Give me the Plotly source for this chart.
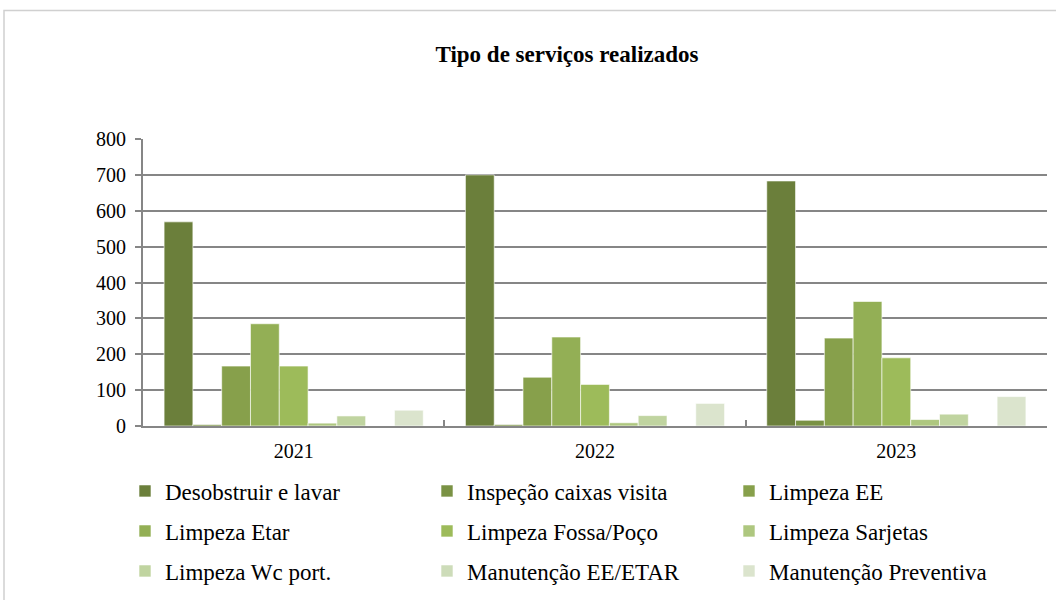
import plotly.graph_objects as go

years = ["2021", "2022", "2023"]
series_names = [
    "Desobstruir e lavar",
    "Inspeção caixas visita",
    "Limpeza EE",
    "Limpeza Etar",
    "Limpeza Fossa/Poço",
    "Limpeza Sarjetas",
    "Limpeza Wc port.",
    "Manutenção EE/ETAR",
    "Manutenção Preventiva",
]
desobstruir = [569, 700, 683]
inspecao = [4, 4, 16]
limpeza_ee = [167, 136, 245]
limpeza_etar = [285, 248, 347]
limpeza_fossa = [167, 116, 190]
limpeza_sarjetas = [8, 9, 18]
limpeza_wc = [28, 29, 33]
manut_ee_etar = [0, 0, 0]
manut_preventiva = [44, 63, 82]
series_values = [desobstruir, inspecao, limpeza_ee, limpeza_etar, limpeza_fossa,
                 limpeza_sarjetas, limpeza_wc, manut_ee_etar, manut_preventiva]
colors = ["#6b7f3b", "#7a9244", "#87a04b", "#93af55", "#9dbb5a",
          "#aec77f", "#c0d4a0", "#cddcb9", "#dbe4cd"]

FONT = "Liberation Serif, Times New Roman, serif"
W, H = 1056, 600
ml, mr, mt, mb = 143, 9, 139, 173
pw = W - ml - mr
ph = H - mt - mb

fig = go.Figure()
legend_ids = ["legend", "legend2", "legend3"]
for i, (name, vals, c) in enumerate(zip(series_names, series_values, colors)):
    fig.add_trace(go.Bar(
        x=years, y=vals, name=name,
        marker=dict(color=c, line=dict(color="rgba(255,255,255,0.6)", width=1)),
        legend=legend_ids[i // 3],
    ))

def py2paper(py):
    return (H - mb - py) / ph

legend_common = dict(
    orientation="h", xanchor="left", yanchor="middle",
    x=(125 - ml) / pw,
    entrywidth=257, entrywidthmode="pixels",
    font=dict(family=FONT, size=23, color="#000000"),
    bgcolor="rgba(0,0,0,0)", itemclick=False, itemdoubleclick=False,
    traceorder="normal",
)
layout_legends = {}
for lid, ypix in zip(legend_ids, [491, 531, 571]):
    d = dict(legend_common)
    d["y"] = py2paper(ypix)
    layout_legends[lid] = d

fig.update_layout(
    width=W, height=H,
    margin=dict(l=ml, r=mr, t=mt, b=mb, pad=0),
    paper_bgcolor="white", plot_bgcolor="white",
    barmode="group", bargap=0.14, bargroupgap=0,
    title=dict(text="<b>Tipo de serviços realizados</b>", x=567 / W, xanchor="center",
               xref="container", y=1 - 54 / H, yref="container", yanchor="middle",
               font=dict(family=FONT, size=23, color="#000000")),
    showlegend=True,
    font=dict(family=FONT, color="#000000"),
    **layout_legends,
)
fig.update_xaxes(
    showline=True, linecolor="#868686", linewidth=2,
    ticks="inside", tickson="boundaries", ticklen=6, tickcolor="#868686", tickwidth=2,
    tickfont=dict(family=FONT, size=20, color="#000000"),
    ticklabelstandoff=6,
    showgrid=False,
)
fig.update_yaxes(
    range=[0, 800], dtick=100, tick0=0,
    showline=True, linecolor="#868686", linewidth=2,
    ticks="outside", ticklen=6, tickcolor="#868686", tickwidth=2,
    showgrid=True, gridcolor="#868686", gridwidth=2,
    tickfont=dict(family=FONT, size=20, color="#000000"),
    ticklabelstandoff=5,
    zeroline=False,
)
fig.add_shape(type="rect", xref="paper", yref="paper",
              x0=(4 - ml) / pw, x1=(1070 - ml) / pw,
              y0=py2paper(620), y1=py2paper(10),
              line=dict(color="#d0d0d0", width=1.5), fillcolor="rgba(0,0,0,0)",
              layer="below")

fig.write_html("out.html", config={"displayModeBar": False},
               post_script="document.body.style.margin='0';document.body.style.overflow='hidden';")
